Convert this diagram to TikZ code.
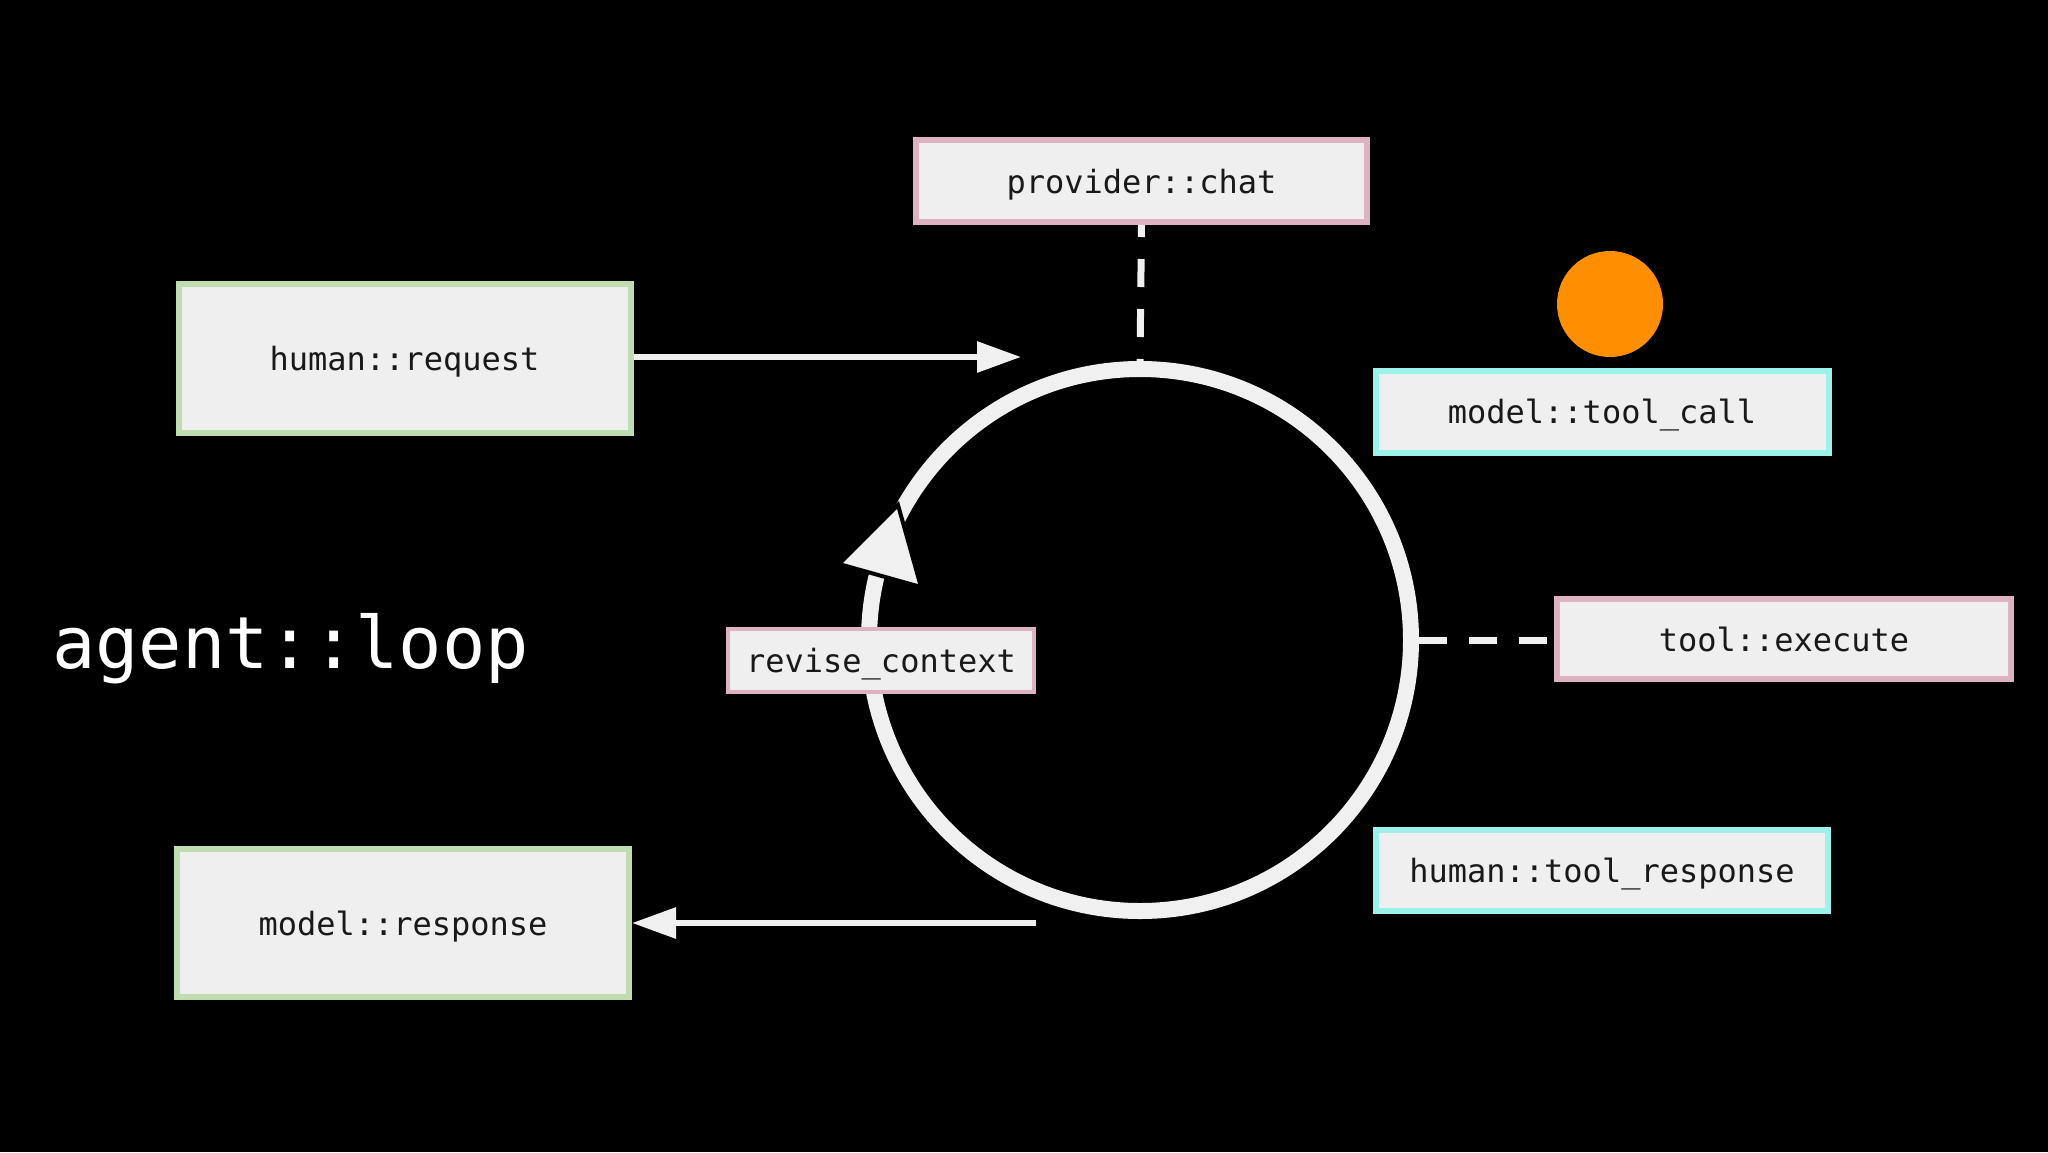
\documentclass[tikz,border=0pt]{standalone}
\usepackage{fontspec}
\setmonofont{DejaVu Sans Mono}
\usetikzlibrary{arrows.meta}
\definecolor{boxfill}{RGB}{239,239,239}
\definecolor{pinkb}{RGB}{221,179,194}
\definecolor{greenb}{RGB}{191,221,177}
\definecolor{cyanb}{RGB}{156,241,235}
\definecolor{orangeb}{RGB}{255,142,0}
\definecolor{linec}{RGB}{240,240,240}
\definecolor{txt}{RGB}{25,25,25}
\tikzset{
  lbl/.style={rectangle, fill=boxfill, line width=6pt, inner sep=0pt, text=txt,
    text depth=0pt, font=\ttfamily\fontsize{32}{38}\selectfont},
  pinkbox/.style={lbl, draw=pinkb},
  greenbox/.style={lbl, draw=greenb},
  cyanbox/.style={lbl, draw=cyanb},
  dashconn/.style={draw=linec, line width=7pt, dash pattern=on 28pt off 22pt},
  arrconn/.style={draw=linec, line width=6pt, -{Triangle[length=44pt, width=30pt]}}
}
\begin{document}
\begin{tikzpicture}[x=1pt, y=-1pt]
\useasboundingbox (0,0) rectangle (2048,1152);
\fill[black] (0,0) rectangle (2048,1152);
% main loop circle
\node[circle, draw=linec, line width=16pt, minimum size=542pt, inner sep=0pt] (loop) at (1140,640) {};
% arrow head on the circle
\draw[fill=linec, draw=black, line width=4pt, line join=miter] (898,505) -- (839,564) -- (921,587) -- cycle;
% boxes
\node[pinkbox, minimum width=451pt, minimum height=82pt] (provider) at (1141.5,181) {provider::chat};
\node[greenbox, minimum width=452pt, minimum height=149pt] (request) at (404.5,358) {human::request};
\node[greenbox, minimum width=452pt, minimum height=148pt] (response) at (403,923) {model::response};
\node[cyanbox, minimum width=453pt, minimum height=82pt] (toolcall) at (1602,411.5) {model::tool\_call};
\node[pinkbox, minimum width=454pt, minimum height=80pt] (execute) at (1784,639) {tool::execute};
\node[cyanbox, minimum width=452pt, minimum height=81pt] (toolresp) at (1602,870.5) {human::tool\_response};
\node[pinkbox, line width=4pt, minimum width=306pt, minimum height=63pt] (revise) at (881,660.5) {revise\_context};
% orange dot
\node[circle, fill=orangeb, minimum size=106pt, inner sep=0pt] (dot) at (1610,304) {};
% title
\node[anchor=base west, inner sep=0pt, text=white, font=\ttfamily\fontsize{72}{80}\selectfont] (title) at (52,668) {agent::loop};
% connectors
\coordinate (inpt) at (1021,357);
\coordinate (outpt) at (1036,923);
\draw[arrconn] (request.east |- inpt) -- (inpt);
\draw[arrconn] (outpt) -- (response.east |- outpt);
\draw[dashconn, dash phase=16pt] (provider.south) -- (loop.north);
\draw[dashconn] (loop.east) -- (execute.west |- loop.east);
\end{tikzpicture}
\end{document}
